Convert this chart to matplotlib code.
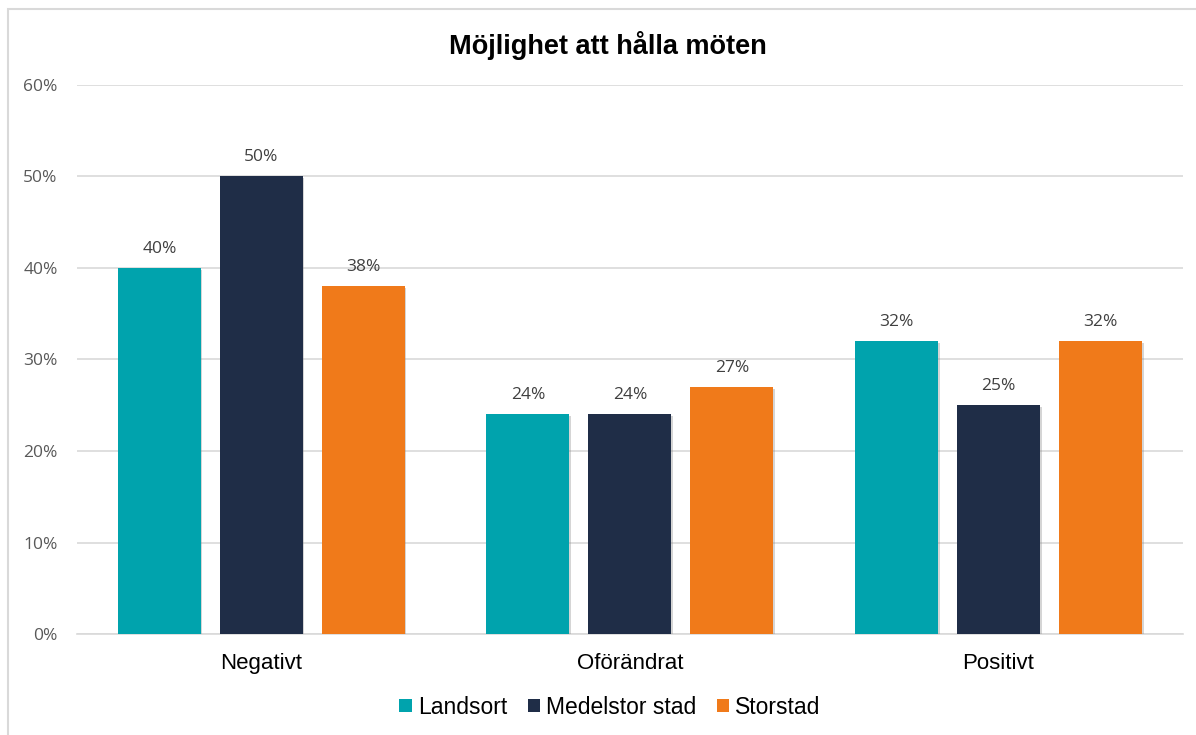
import numpy as np
import matplotlib.pyplot as plt
from matplotlib.patches import Patch, Rectangle
import matplotlib.patheffects as pe

categories = ["Negativt", "Oförändrat", "Positivt"]
series = ["Landsort", "Medelstor stad", "Storstad"]
landsort = [0.40, 0.24, 0.32]
medelstor = [0.50, 0.24, 0.25]
storstad = [0.38, 0.27, 0.32]
colors = ["#00A3AD", "#1F2D47", "#F07A1A"]
yticks = [0, 0.1, 0.2, 0.3, 0.4, 0.5, 0.6]


def main():
	fig = plt.figure(figsize=(11.96, 7.35), dpi=100)
	ax = fig.add_axes([0.0644, 0.1374, 0.9246, 0.747])

	x = np.arange(len(categories))
	offset = 0.2767
	width = 0.225
	shadow = [pe.SimplePatchShadow(offset=(1.2, -1.2), shadow_rgbFace="#888888", alpha=0.35), pe.Normal()]
	for i, (vals, col) in enumerate(zip([landsort, medelstor, storstad], colors)):
		bars = ax.bar(x + (i - 1) * offset, vals, width=width, color=col, edgecolor="none", zorder=3)
		for b in bars:
			b.set_path_effects(shadow)
		ax.bar_label(bars, labels=["%d%%" % round(v * 100) for v in vals], padding=8,
			fontsize=12.5, family="Open Sans", color="#404040")

	ax.set_xlim(-0.5, 2.5)
	ax.set_ylim(0, 0.6)
	ax.set_yticks(yticks)
	ax.set_yticklabels(["%d%%" % round(v * 100) for v in yticks], fontsize=12.5, family="Open Sans", color="#595959")
	ax.set_xticks(x)
	ax.set_xticklabels(categories, fontsize=16, family="Liberation Sans", color="black")
	ax.tick_params(axis="both", length=0)
	ax.tick_params(axis="y", pad=14)
	ax.tick_params(axis="x", pad=14)
	ax.grid(axis="y", color="#D9D9D9", linewidth=1.2, zorder=0)
	ax.set_axisbelow(True)
	for s in ["top", "right", "left"]:
		ax.spines[s].set_visible(False)
	ax.spines["bottom"].set_color("#D9D9D9")
	ax.spines["bottom"].set_linewidth(1.2)

	fig.text(0.508, 0.938, "Möjlighet att hålla möten", ha="center", va="center",
		fontsize=19.5, fontweight="bold", family="Liberation Sans")

	handles = [Patch(facecolor=c, edgecolor="none", label=s) for c, s in zip(colors, series)]
	fig.legend(handles=handles, loc="center", bbox_to_anchor=(0.510, 0.038), ncol=3, frameon=False,
		prop={"family": "Liberation Sans", "size": 16.5}, handlelength=0.55, handleheight=0.55,
		handletextpad=0.25, columnspacing=0.9)

	# chart border
	fig.patches.append(Rectangle((8 / 1196, -0.1), 1.2, 1 - 9 / 735 + 0.1, transform=fig.transFigure,
		fill=False, edgecolor="#D9D9D9", linewidth=1.5))

	fig.savefig("out.png", dpi=100)


if __name__ == "__main__":
	main()
